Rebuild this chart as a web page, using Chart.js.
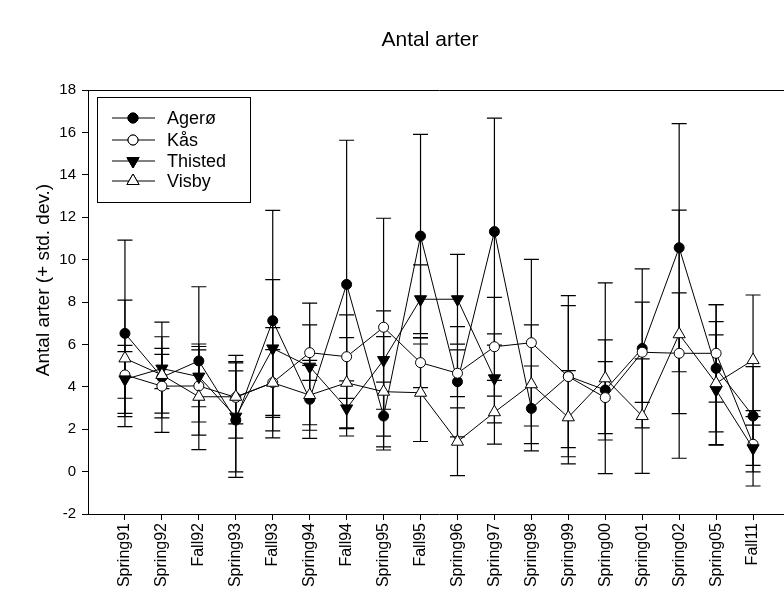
<!DOCTYPE html>
<html>
<head>
<meta charset="utf-8">
<title>Antal arter</title>
<script src="https://cdn.jsdelivr.net/npm/chart.js@4/dist/chart.umd.min.js"></script>
<style>
    html, body { margin: 0; padding: 0; background: #fff; overflow: hidden; }
    #wrap { width: 800px; height: 595px; }
</style>
</head>
<body>
<div id="wrap"><canvas id="chart" width="800" height="595"></canvas></div>
<script>
// Kategorier (prøvetagninger)
const categories = ['Spring91', 'Spring92', 'Fall92', 'Spring93', 'Fall93', 'Spring94', 'Fall94', 'Spring95', 'Fall95',
    'Spring96', 'Spring97', 'Spring98', 'Spring99', 'Spring00', 'Spring01', 'Spring02', 'Spring05', 'Fall11'];

// Middelværdier og standardafvigelser
const agero = [6.52, 4.45, 5.22, 2.43, 7.12, 3.41, 8.83, 2.62, 11.11, 4.24, 11.32, 2.98, 4.5, 3.85, 5.81, 10.56, 4.87, 2.62];
const ageroSd = [4.4, 2.6, 3.5, 2.7, 5.2, 1.84, 6.8, 1.6, 4.8, 2.6, 5.35, 2.0, 3.8, 2.36, 3.75, 5.85, 3.0, 2.33];

const kas = [4.56, 4.03, 4.04, 3.5, 4.2, 5.61, 5.42, 6.81, 5.14, 4.64, 5.89, 6.08, 4.48, 3.49, 5.63, 5.58, 5.58, 1.29];
const kasSd = [1.1, 1.5, 1.7, 1.25, 1.55, 1.31, 1.97, 5.14, 1.18, 1.1, 2.33, 3.93, 3.35, 1.7, 2.36, 2.85, 2.3, 1.3];

const thisted = [4.35, 4.86, 4.48, 2.59, 5.81, 4.95, 2.98, 5.26, 8.13, 8.13, 4.40, null, null, null, null, null, 3.85, 1.10];
const thistedSd = [1.6, 0.95, 1.42, 2.6, 3.25, 3.0, 1.3, 2.32, 1.62, 2.12, 2.1, null, null, null, null, null, 2.6, 1.78];

const visby = [5.34, 4.56, 3.53, 3.53, 4.19, 3.61, 4.19, 3.77, 3.72, 1.41, 2.80, 4.12, 2.56, 4.40, 2.62, 6.48, 4.17, 5.26];
const visbySd = [2.75, 1.8, 2.49, 1.95, 2.6, 1.4, 2.13, 2.6, 2.3, 1.6, 1.5, 2.8, 2.2, 4.5, 2.7, 5.85, 2.9, 3.07];

const yTicks = [-2, 0, 2, 4, 6, 8, 10, 12, 14, 16, 18];

const FONT = 'Arial, "Liberation Sans", sans-serif';

function toPoints(values) {
    return values.map((v, i) => ({ x: i + 1, y: v }));
}

function makeSeries(label, values, sds, style, order) {
    return Object.assign({
        label: label,
        data: toPoints(values),
        sd: sds,
        borderColor: '#000',
        borderWidth: 1,
        pointBorderColor: '#000',
        pointBorderWidth: 1,
        pointRadius: 5,
        pointHoverRadius: 5,
        tension: 0,
        spanGaps: false,
        order: order
    }, style);
}

const datasets = [
    makeSeries('Agerø', agero, ageroSd, { pointStyle: 'circle', pointBackgroundColor: '#000' }, 4),
    makeSeries('Kås', kas, kasSd, { pointStyle: 'circle', pointBackgroundColor: '#fff' }, 3),
    makeSeries('Thisted', thisted, thistedSd, { pointStyle: 'triangle', pointRotation: 180, pointRadius: 7, pointBackgroundColor: '#000' }, 2),
    makeSeries('Visby', visby, visbySd, { pointStyle: 'triangle', pointRadius: 7, pointBackgroundColor: '#fff' }, 1)
];

// Fejllinjer (middel +/- std. dev.) tegnet via skalaerne
const errorBars = {
    id: 'errorBars',
    beforeDatasetsDraw(chart) {
        const ctx = chart.ctx;
        const yScale = chart.scales.y;
        ctx.save();
        ctx.strokeStyle = '#000';
        ctx.lineWidth = 1.2;
        chart.data.datasets.forEach((ds, di) => {
            const meta = chart.getDatasetMeta(di);
            meta.data.forEach((pt, i) => {
                const m = ds.data[i].y;
                const sd = ds.sd[i];
                if (m === null || sd === null) return;
                const x = pt.x;
                const yTop = yScale.getPixelForValue(m + sd);
                const yBot = yScale.getPixelForValue(m - sd);
                ctx.beginPath();
                ctx.moveTo(x, yTop); ctx.lineTo(x, yBot);
                ctx.moveTo(x - 7.5, yTop); ctx.lineTo(x + 7.5, yTop);
                ctx.moveTo(x - 7.5, yBot); ctx.lineTo(x + 7.5, yBot);
                ctx.stroke();
            });
        });
        ctx.restore();
    }
};

// Titel, y-aksetekst og forklaringsboks
const decorations = {
    id: 'decorations',
    afterDraw(chart) {
        const ctx = chart.ctx;
        ctx.save();
        ctx.fillStyle = '#000';

        ctx.font = '21px ' + FONT;
        ctx.textAlign = 'center';
        ctx.textBaseline = 'middle';
        ctx.fillText('Antal arter', 430, 40);

        ctx.save();
        ctx.translate(44, 280);
        ctx.rotate(-Math.PI / 2);
        ctx.font = '19px ' + FONT;
        ctx.fillText('Antal arter (+ std. dev.)', 0, 0);
        ctx.restore();

        // legend box
        ctx.strokeStyle = '#000';
        ctx.lineWidth = 1;
        ctx.strokeRect(97.5, 97.5, 153, 105);
        const rows = [118, 140, 161, 181];
        ctx.font = '18px ' + FONT;
        ctx.textAlign = 'left';
        chart.data.datasets.forEach((ds, i) => {
            const y = rows[i];
            ctx.beginPath();
            ctx.moveTo(112, y); ctx.lineTo(155, y);
            ctx.stroke();
            Chart.helpers.drawPoint(ctx, {
                pointStyle: ds.pointStyle,
                rotation: ds.pointRotation || 0,
                radius: ds.pointRadius,
                borderWidth: 1
            }, 133, y);
            ctx.fillStyle = ds.pointBackgroundColor;
            ctx.strokeStyle = '#000';
            ctx.fill();
            ctx.stroke();
            ctx.fillStyle = '#000';
            ctx.fillText(ds.label, 167, y + 1);
        });
        ctx.restore();
    }
};

const tickGrid = { display: true, drawOnChartArea: false, drawTicks: true, tickLength: 6, color: '#000', lineWidth: 1 };

new Chart(document.getElementById('chart'), {
    type: 'line',
    data: { datasets: datasets },
    options: {
        responsive: false,
        animation: false,
        devicePixelRatio: 1,
        layout: { padding: { left: 0, top: 90, right: 10, bottom: 0 } },
        plugins: { legend: { display: false }, tooltip: { enabled: false }, title: { display: false } },
        scales: {
            x: {
                type: 'linear',
                min: 0,
                max: 19,
                afterBuildTicks: (axis) => { axis.ticks = categories.map((c, i) => ({ value: i + 1 })); },
                afterFit: (axis) => { axis.height = 81; },
                ticks: {
                    autoSkip: false,
                    minRotation: 90,
                    maxRotation: 90,
                    padding: 3,
                    color: '#000',
                    font: { family: FONT, size: 16 },
                    callback: (v) => categories[v - 1] || ''
                },
                grid: tickGrid,
                border: { display: true, color: '#000', width: 1 }
            },
            xTop: {
                type: 'linear',
                position: 'top',
                min: 0,
                max: 19,
                afterFit: (axis) => { axis.height = 0; },
                ticks: { display: false },
                grid: { display: false },
                border: { display: true, color: '#000', width: 1 }
            },
            y: {
                min: -2,
                max: 18,
                afterBuildTicks: (axis) => { axis.ticks = yTicks.map(v => ({ value: v })); },
                afterFit: (axis) => { axis.width = 88; },
                ticks: {
                    padding: 6,
                    color: '#000',
                    font: { family: FONT, size: 15 }
                },
                grid: tickGrid,
                border: { display: true, color: '#000', width: 1 }
            }
        }
    },
    plugins: [errorBars, decorations]
});
</script>
</body>
</html>
